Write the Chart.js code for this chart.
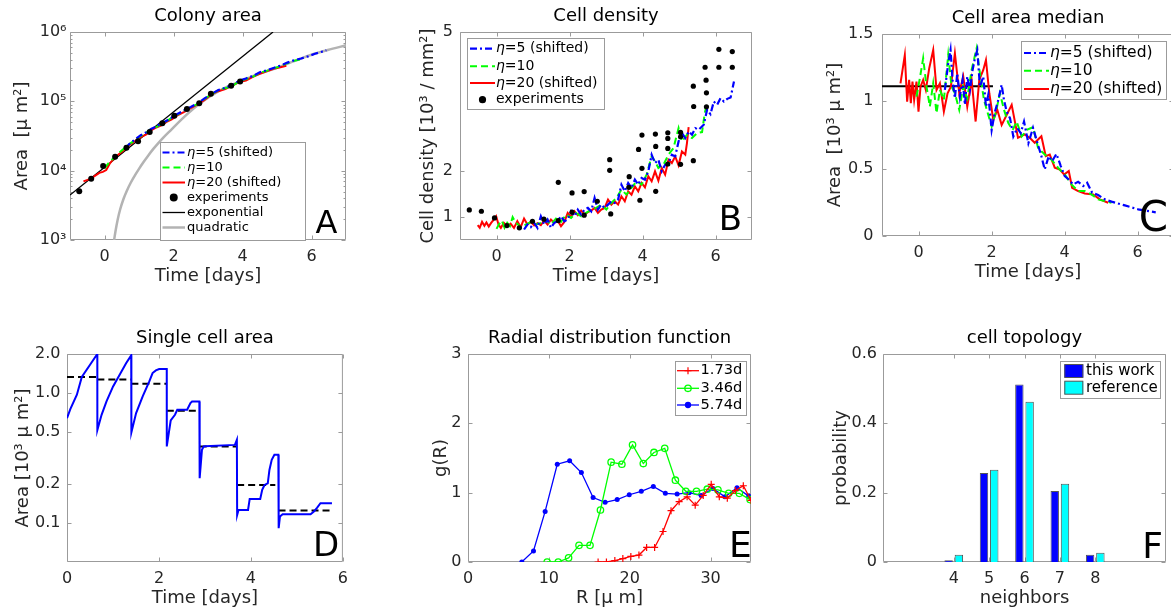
<!DOCTYPE html>
<html>
<head>
<meta charset="utf-8">
<script src="https://cdn.jsdelivr.net/npm/chart.js@4.4.1/dist/chart.umd.min.js"></script>
<style>
  html, body { margin: 0; padding: 0; background: #fff; overflow: hidden; }
  body { width: 1171px; height: 612px; position: relative; }
  canvas { position: absolute; }
</style>
</head>
<body>
<canvas id="colony"></canvas>
<canvas id="density"></canvas>
<canvas id="median"></canvas>
<canvas id="single"></canvas>
<canvas id="radial"></canvas>
<canvas id="topology"></canvas>
<script>
// ---------- data ----------
const dayTicks = [0, 2, 4, 6];

// A: colony area [µm²] vs time [days]
const colonyTicks = [1e3, 1e4, 1e5, 1e6];
const colonyEta5 = [[0.6,21000],[0.75,25000],[0.9,28500],[1.05,32500],[1.2,35500],[1.35,40000],[1.5,43500],[1.65,48000],[1.8,52500],[1.95,58500],[2.1,65000],[2.3,74000],[2.5,83000],[2.7,94000],[2.9,110000],[3.1,128000],[3.3,146000],[3.5,157000],[3.7,172000],[3.9,198000],[4.1,214000],[4.3,232000],[4.5,262000],[4.7,280000],[4.9,303000],[5.1,328000],[5.3,362000],[5.5,392000],[5.7,415000],[5.9,445000],[6.1,485000],[6.3,520000],[6.43,545000]];
const colonyEta10 = [[0.0,10800],[0.15,13500],[0.3,15800],[0.45,18600],[0.6,21500],[0.75,24800],[0.9,27800],[1.05,31800],[1.2,35000],[1.35,40000],[1.5,42500],[1.65,47000],[1.8,52000],[1.95,58000],[2.1,64000],[2.3,73000],[2.5,82000],[2.7,92000],[2.9,108000],[3.1,127000],[3.3,145000],[3.5,155000],[3.7,165000],[3.9,195000],[4.1,210000],[4.3,225000],[4.5,258000],[4.7,275000],[4.9,300000],[5.1,320000],[5.3,355000],[5.5,385000],[5.7,405000]];
const colonyEta20 = [[-0.61,7000],[-0.45,7500],[-0.3,8300],[-0.15,9300],[-0.05,9600],[0.05,10200],[0.15,12600],[0.3,15500],[0.45,17800],[0.6,20500],[0.75,24000],[0.9,27000],[1.05,30500],[1.2,33000],[1.35,38000],[1.5,42000],[1.65,45000],[1.8,50500],[1.95,55000],[2.1,62000],[2.3,70000],[2.5,80000],[2.7,90000],[2.9,105000],[3.1,126000],[3.3,140000],[3.5,150000],[3.7,168000],[3.9,190000],[4.1,200000],[4.3,226000],[4.5,250000],[4.7,270000],[4.9,295000],[5.1,310000],[5.27,325000]];
const colonyExperiments = [[-0.732,5035],[-0.385,7670],[-0.039,11670],[0.308,15920],[0.636,21480],[0.973,26500],[1.31,36140],[1.676,48200],[2.023,62130],[2.389,77470],[2.746,93500],[3.083,129000],[3.671,168400],[3.931,194000]];
const colonyExponential = [[-1,4440],[4.885,1e6]];
const colonyQuadratic = [[0.279,1000],[0.32,1350],[0.38,1950],[0.453,2750],[0.55,3900],[0.645,5100],[0.76,6700],[0.886,8600],[1.0,10600],[1.127,13200],[1.27,16600],[1.416,20600],[1.56,25000],[1.705,30000],[1.946,39500],[2.235,55000],[2.6,80000],[3.0,113000],[3.5,158000],[4.0,200000],[4.5,252000],[5.0,305000],[5.5,380000],[6.0,470000],[6.47,549500],[7.0,642600]];

// B: cell density [10³/mm²]
const densityTicks = [1, 2, 5];
const densityEta5 = [[0.755,0.727],[0.847,0.835],[0.939,0.777],[1.031,0.871],[1.123,0.763],[1.215,1.014],[1.307,0.835],[1.399,0.942],[1.491,0.763],[1.583,0.871],[1.675,0.906],[1.767,1.014],[1.859,0.906],[1.951,0.942],[2.043,1.122],[2.135,1.014],[2.227,1.158],[2.319,1.05],[2.411,1.158],[2.503,1.194],[2.595,1.122],[2.687,1.41],[2.779,1.158],[2.871,1.266],[2.963,1.194],[3.055,1.266],[3.147,1.338],[3.239,1.302],[3.331,1.374],[3.423,1.698],[3.515,1.554],[3.607,1.734],[3.699,1.626],[3.791,1.806],[3.883,1.698],[3.975,1.842],[4.067,1.806],[4.159,1.986],[4.251,2.345],[4.343,2.165],[4.435,2.237],[4.527,1.986],[4.62,2.129],[4.711,2.165],[4.804,2.345],[4.896,2.309],[4.988,2.633],[5.08,2.813],[5.172,2.705],[5.264,2.849],[5.356,2.777],[5.448,2.921],[5.54,2.885],[5.678,2.993],[5.77,3.317],[5.862,3.223],[5.954,3.496],[6.046,3.424],[6.138,3.568],[6.23,3.496],[6.322,3.554],[6.414,3.583],[6.506,3.928]];
const densityEta10 = [[0.0,0.741],[0.074,0.849],[0.147,0.921],[0.221,0.763],[0.294,0.871],[0.368,0.799],[0.442,0.993],[0.516,0.885],[0.589,0.835],[0.681,0.763],[0.801,0.835],[0.939,0.885],[1.077,0.835],[1.215,0.871],[1.353,0.942],[1.491,0.835],[1.629,0.964],[1.767,0.892],[1.905,1.05],[2.043,0.978],[2.181,1.086],[2.319,1.014],[2.457,1.086],[2.595,1.158],[2.733,1.194],[2.871,1.266],[3.009,1.158],[3.147,1.302],[3.285,1.41],[3.423,1.59],[3.561,1.482],[3.699,1.626],[3.837,1.77],[3.975,1.698],[4.113,1.914],[4.251,2.309],[4.343,2.201],[4.435,2.058],[4.573,2.129],[4.711,2.345],[4.85,2.489],[4.988,2.921],[5.08,2.633],[5.218,2.777],[5.356,2.705],[5.494,2.813],[5.632,2.835],[5.706,3.245],[5.77,3.482]];
const densityEta20 = [[-0.515,0.82],[-0.46,0.763],[-0.396,0.892],[-0.331,0.806],[-0.276,0.878],[-0.212,0.791],[-0.147,0.871],[-0.074,0.942],[-0.009,1.014],[0.055,0.835],[0.12,0.763],[0.202,0.871],[0.294,0.799],[0.386,0.856],[0.479,0.763],[0.571,0.906],[0.663,0.777],[0.755,0.964],[0.847,0.835],[0.939,0.892],[1.031,0.813],[1.123,0.863],[1.215,0.82],[1.307,0.921],[1.399,0.835],[1.491,0.942],[1.583,0.871],[1.675,0.921],[1.767,0.799],[1.859,0.892],[1.951,1.086],[2.043,1.007],[2.135,1.122],[2.227,1.036],[2.319,1.137],[2.411,1.05],[2.503,1.101],[2.595,1.137],[2.687,1.194],[2.779,1.086],[2.871,1.158],[2.963,1.194],[3.055,1.374],[3.147,1.266],[3.239,1.338],[3.331,1.266],[3.423,1.446],[3.515,1.338],[3.607,1.554],[3.699,1.482],[3.791,1.662],[3.883,1.554],[3.975,1.734],[4.067,1.64],[4.159,1.878],[4.251,1.77],[4.343,1.986],[4.435,1.784],[4.527,2.058],[4.62,1.914],[4.711,2.237],[4.804,2.165],[4.896,2.309],[4.988,2.115],[5.08,2.417],[5.172,2.345],[5.218,2.597],[5.264,2.942]];
const densityExperiments = [[-0.745,1.151],[-0.414,1.122],[-0.055,0.978],[0.285,0.813],[0.626,0.763],[0.985,0.906],[1.298,0.95],[1.693,1.748],[1.693,0.921],[2.07,1.518],[2.07,1.101],[2.402,1.547],[2.402,1.036],[2.761,1.338],[3.101,2.237],[3.101,2.007],[3.129,1.065],[3.635,1.871],[3.626,1.64],[3.892,2.46],[3.985,2.77],[3.985,2.05],[3.929,1.36],[4.353,2.791],[4.362,2.525],[4.362,1.554],[4.693,2.82],[4.693,2.698],[4.693,2.482],[4.693,2.144],[5.043,2.137],[5.043,2.827],[5.043,2.734],[5.393,3.827],[5.402,3.388],[5.393,2.216],[5.715,4.237],[5.742,3.957],[5.752,3.683],[5.752,3.381],[6.092,4.626],[6.092,4.237],[6.46,4.576],[6.46,4.237]];

// C: cell area median [10³ µm²]
const medianTicks = [0, 0.5, 1, 1.5];
const medianEta5 = [[0.723,1.085],[0.814,1.282],[0.878,1.381],[0.933,1.159],[0.997,1.023],[1.061,1.208],[1.134,1.035],[1.208,1.159],[1.272,0.974],[1.336,1.184],[1.409,1.085],[1.482,1.233],[1.546,1.32],[1.61,1.381],[1.683,1.109],[1.775,1.184],[1.848,0.961],[1.912,1.048],[2.004,0.788],[2.095,0.924],[2.187,1.011],[2.278,1.122],[2.342,1.011],[2.415,0.924],[2.507,0.875],[2.598,0.739],[2.708,0.801],[2.8,0.764],[2.891,0.85],[3.01,0.689],[3.138,0.803],[3.257,0.692],[3.367,0.593],[3.458,0.494],[3.568,0.593],[3.66,0.556],[3.779,0.61],[3.898,0.519],[4.007,0.445],[4.117,0.42],[4.236,0.383],[4.373,0.403],[4.511,0.371],[4.62,0.395],[4.758,0.321],[4.922,0.304],[5.105,0.272],[5.288,0.255],[5.654,0.227],[6.02,0.198],[6.5,0.176]];
const medianEta10 = [[-0.055,1.035],[0.037,1.171],[0.128,1.32],[0.22,1.109],[0.311,0.961],[0.403,1.134],[0.494,0.912],[0.586,1.085],[0.695,1.011],[0.814,1.344],[0.906,1.109],[0.997,1.06],[1.116,0.937],[1.226,1.109],[1.336,1.023],[1.455,1.233],[1.592,1.394],[1.683,1.208],[1.793,1.011],[1.885,0.924],[2.004,0.813],[2.123,0.924],[2.232,1.06],[2.342,0.937],[2.461,0.838],[2.58,0.788],[2.69,0.85],[2.827,0.739],[2.964,0.788],[3.138,0.808],[3.275,0.655],[3.458,0.605],[3.641,0.568],[3.824,0.507],[4.007,0.457],[4.19,0.383],[4.373,0.334],[4.556,0.334],[4.739,0.309],[4.922,0.272],[5.105,0.259],[5.288,0.247]];
const medianEta20 = [[-0.494,1.134],[-0.375,1.344],[-0.311,0.998],[-0.256,1.159],[-0.21,0.986],[-0.165,1.147],[-0.119,1.011],[-0.055,1.147],[0.0,0.924],[0.055,1.109],[0.128,1.159],[0.201,1.085],[0.293,1.245],[0.403,1.381],[0.494,1.085],[0.586,1.134],[0.695,0.924],[0.796,1.06],[0.887,1.109],[0.997,1.357],[1.116,1.06],[1.226,1.184],[1.336,0.961],[1.455,1.159],[1.565,0.85],[1.665,1.159],[1.775,1.233],[1.848,1.307],[1.94,1.06],[2.049,0.862],[2.159,0.937],[2.278,0.825],[2.415,0.899],[2.553,0.974],[2.726,0.729],[2.909,0.754],[3.047,0.729],[3.184,0.692],[3.367,0.741],[3.486,0.593],[3.596,0.605],[3.733,0.507],[3.87,0.494],[3.989,0.457],[4.117,0.482],[4.209,0.358],[4.373,0.334],[4.556,0.316],[4.785,0.309],[4.968,0.272],[5.197,0.247]];
const medianInitial = [[-1,1.112],[2.04,1.112]];

// D: single cell area [10³ µm²]
const singleTicks = [0.1, 0.2, 0.5, 1.0, 2.0];
const singleCell = [[0,0.641],[0.072,0.753],[0.215,0.971],[0.322,1.329],[0.501,1.654],[0.659,2.0],[0.66,0.518],[0.752,0.68],[0.859,0.862],[1.002,1.125],[1.145,1.385],[1.288,1.703],[1.396,1.953],[1.4,0.497],[1.503,0.701],[1.646,0.943],[1.79,1.23],[1.861,1.426],[1.933,1.495],[2.004,1.531],[2.169,1.531],[2.17,0.388],[2.255,0.615],[2.348,0.681],[2.398,0.744],[2.613,0.744],[2.684,0.837],[2.72,0.862],[2.878,0.862],[2.885,0.221],[2.935,0.366],[2.971,0.388],[3.0,0.39],[3.651,0.399],[3.694,0.437],[3.7,0.115],[3.73,0.126],[3.937,0.126],[3.973,0.153],[4.202,0.153],[4.245,0.18],[4.295,0.196],[4.366,0.202],[4.402,0.256],[4.452,0.306],[4.51,0.335],[4.596,0.335],[4.603,0.091],[4.631,0.112],[4.689,0.1166],[5.297,0.1166],[5.369,0.1223],[5.44,0.1313],[5.512,0.1418],[5.762,0.1418]];
const singleMeans = [[0,0.66,1.33],[0.66,1.4,1.275],[1.4,2.17,1.18],[2.17,2.885,0.731],[2.885,3.7,0.388],[3.7,4.53,0.196],[4.6,5.76,0.1245]];

// E: radial distribution function g(R)
const radialTicksX = [0, 10, 20, 30];
const radialTicksY = [0, 1, 2, 3];
const rdf173 = [[16.09,0],[17.12,0],[18.16,0.02],[19.15,0.05],[20.14,0.08],[21.14,0.1],[22.09,0.21],[23.08,0.21],[24.12,0.44],[25.11,0.74],[26.11,0.87],[27.1,0.94],[28.1,0.82],[29.09,0.96],[30.08,1.12],[31.08,0.94],[32.07,0.92],[33.06,1.03],[34.05,1.1],[35.0,0.89]];
const rdf346 = [[9.79,0],[11.16,0],[12.44,0.06],[13.73,0.24],[15.09,0.24],[16.38,0.75],[17.7,1.44],[19.03,1.41],[20.35,1.69],[21.68,1.42],[23.0,1.58],[24.33,1.64],[25.65,1.18],[26.94,1.02],[28.26,1.02],[29.59,1.05],[30.91,1.04],[32.24,0.99],[33.56,0.99],[34.89,0.9]];
const rdf574 = [[6.65,0],[8.1,0.16],[9.54,0.73],[11.04,1.41],[12.57,1.46],[14.02,1.29],[15.47,0.93],[16.96,0.86],[18.45,0.9],[19.94,0.97],[21.43,1.02],[22.92,1.09],[24.41,0.99],[25.86,0.98],[27.35,1.0],[28.84,0.96],[30.29,1.06],[31.78,0.94],[33.27,1.07],[34.72,0.95]];

// F: cell topology
const neighbors = [4, 5, 6, 7, 8];
const topoThisWork = [0.005, 0.257, 0.512, 0.205, 0.021];
const topoReference = [0.021, 0.266, 0.462, 0.226, 0.027];
const topoTicks = [0, 0.2, 0.4, 0.6];

// ---------- styling helpers ----------
const FONT = "'DejaVu Sans', sans-serif";
const INK = '#262626';
const EDGE = '#9b9b9b';
const DASH = [7, 4];
const DASHDOT = [7, 3, 2, 3];
const SUP = {3: '\u00b3', 4: '\u2074', 5: '\u2075', 6: '\u2076'};

Chart.defaults.font.family = FONT;

const pts = rows => rows.map(([x, y]) => ({x, y}));
const steps = segs => segs.flatMap(([a, b, v]) => [{x: a, y: v}, {x: b, y: v}, {x: b, y: null}]);

const line = (label, data, color, dash, width) => ({
  label, data, showLine: true, borderColor: color, backgroundColor: color,
  borderWidth: width || 2, borderDash: dash || [], pointRadius: 0, pointHoverRadius: 0
});
const dots = (label, data, r) => ({
  label, data, showLine: false, pointRadius: r, pointHoverRadius: r,
  pointBackgroundColor: '#000', pointBorderColor: '#000', pointBorderWidth: 0,
  backgroundColor: '#000', borderColor: '#000', order: -1
});

function axis(o) {
  return {
    type: o.type || 'linear', min: o.min, max: o.max, offset: false,
    afterBuildTicks: s => { s.ticks = o.ticks.map(v => ({value: v})); },
    afterFit: s => { if (s.isHorizontal()) s.height = 50; else s.width = 60; },
    grid: {display: false, drawTicks: false, offset: false},
    border: {display: false},
    ticks: {color: INK, font: {size: 16}, padding: o.pad, autoSkip: false, maxRotation: 0,
            callback: o.fmt || (v => v)},
    title: {display: true, text: o.title, color: INK, font: {size: 18}, padding: o.tpad}
  };
}
const xDays = () => axis({min: -1, max: 7, ticks: dayTicks, pad: 7, title: 'Time [days]', tpad: {top: 0, bottom: 2.7}});

function marker(ctx, ds, x, y) {
  const r = ds.pointRadius;
  ctx.setLineDash([]);
  ctx.lineWidth = ds.pointBorderWidth || 0;
  ctx.strokeStyle = ds.pointBorderColor || ds.borderColor;
  ctx.fillStyle = ds.pointBackgroundColor || ds.backgroundColor;
  ctx.beginPath();
  if (ds.pointStyle === 'cross') {
    ctx.moveTo(x - r, y); ctx.lineTo(x + r, y); ctx.moveTo(x, y - r); ctx.lineTo(x, y + r);
    ctx.stroke();
  } else {
    ctx.arc(x, y, r, 0, Math.PI * 2);
    ctx.fill();
    if (ctx.lineWidth > 0) ctx.stroke();
  }
}

// MATLAB-like box with inward ticks, and the big panel letter
const frame = {
  id: 'frame',
  beforeDatasetsDraw(chart, args, o) {
    const {ctx, chartArea: a} = chart;
    const {x, y} = chart.scales;
    const L = a.left + 0.5, R = a.right - 0.5, T = a.top + 0.5, B = a.bottom - 0.5;
    ctx.save();
    ctx.strokeStyle = EDGE;
    ctx.lineWidth = 1;
    ctx.beginPath();
    ctx.rect(L, T, R - L, B - T);
    x.ticks.forEach(t => {
      const p = Math.round(x.getPixelForValue(t.value)) + 0.5;
      ctx.moveTo(p, B); ctx.lineTo(p, B - 4); ctx.moveTo(p, T); ctx.lineTo(p, T + 4);
    });
    y.ticks.forEach(t => {
      const p = Math.round(y.getPixelForValue(t.value)) + 0.5;
      ctx.moveTo(L, p); ctx.lineTo(L + 4, p); ctx.moveTo(R, p); ctx.lineTo(R - 4, p);
    });
    if (o.minorY) {
      for (let e = Math.log10(y.min); e < Math.log10(y.max); e++) {
        for (let m = 2; m < 10; m++) {
          const p = Math.round(y.getPixelForValue(m * Math.pow(10, e))) + 0.5;
          ctx.moveTo(L, p); ctx.lineTo(L + 2, p); ctx.moveTo(R, p); ctx.lineTo(R - 2, p);
        }
      }
    }
    ctx.stroke();
    ctx.restore();
  },
  afterDatasetsDraw(chart, args, o) {
    if (!o.letter) return;
    const {ctx, chartArea: a} = chart;
    ctx.save();
    ctx.fillStyle = '#000';
    ctx.font = o.letter[1] + 'px ' + FONT;
    ctx.textAlign = 'right';
    ctx.textBaseline = 'alphabetic';
    ctx.fillText(o.letter[0], a.right + o.letter[2], a.bottom + o.letter[3]);
    ctx.restore();
  }
};

// boxed legend placed inside the axes, entries taken from the datasets
const boxLegend = {
  id: 'boxLegend',
  afterDraw(chart, args, o) {
    if (!o.rows) return;
    const ctx = chart.ctx;
    const [ox, oy] = o.origin;
    const [bx, by, bw, bh] = o.box;
    ctx.save();
    ctx.fillStyle = '#fff';
    ctx.fillRect(bx - ox, by - oy, bw, bh);
    ctx.strokeStyle = EDGE;
    ctx.lineWidth = 1;
    ctx.strokeRect(Math.round(bx - ox) + 0.5, Math.round(by - oy) + 0.5, bw, bh);
    ctx.textBaseline = 'middle';
    ctx.textAlign = 'left';
    o.rows.forEach((ry, i) => {
      const ds = chart.data.datasets[i];
      const cy = ry - oy;
      const s0 = o.sample[0] - ox, s1 = o.sample[1] - ox;
      if (chart.config.type === 'bar') {
        ctx.fillStyle = ds.backgroundColor;
        ctx.fillRect(s0, cy - 6.5, s1 - s0, 13);
        ctx.strokeStyle = ds.borderColor;
        ctx.lineWidth = 1;
        ctx.setLineDash([]);
        ctx.strokeRect(s0 + 0.5, cy - 6.5, s1 - s0 - 1, 13);
      } else {
        if (ds.showLine) {
          ctx.strokeStyle = ds.borderColor;
          ctx.lineWidth = ds.borderWidth;
          ctx.setLineDash(ds.borderDash || []);
          ctx.beginPath();
          ctx.moveTo(s0, cy); ctx.lineTo(s1, cy);
          ctx.stroke();
        }
        if (ds.pointRadius > 0) marker(ctx, ds, (s0 + s1) / 2, cy);
      }
      ctx.fillStyle = '#000';
      let tx = o.textX - ox;
      let text = ds.label;
      if (text.startsWith('\u03b7')) {
        // greek eta set in italic, as in the original TeX legend
        ctx.font = 'italic ' + o.size + 'px ' + FONT;
        ctx.fillText('\u03b7', tx, cy);
        tx += ctx.measureText('\u03b7').width;
        text = text.slice(1);
      }
      ctx.font = o.size + 'px ' + FONT;
      ctx.fillText(text, tx, cy);
    });
    ctx.restore();
  }
};

function panel(id, plot, spec) {
  const g = {left: 60, top: 32, right: plot.r > 1171 ? 0 : 8, bottom: 50};
  const canvas = document.getElementById(id);
  const left = plot.l - g.left, top = plot.t - g.top;
  const w = plot.r - plot.l + g.left + g.right;
  const h = plot.b - plot.t + g.top + g.bottom;
  Object.assign(canvas.style, {left: left + 'px', top: top + 'px', width: w + 'px', height: h + 'px'});
  canvas.width = w;
  canvas.height = h;
  const legend = spec.legend ? Object.assign({origin: [left, top]}, spec.legend) : false;
  return new Chart(canvas, {
    type: spec.type || 'scatter',
    data: {datasets: spec.datasets},
    options: {
      responsive: false, animation: false, devicePixelRatio: 1, events: [],
      layout: {padding: {left: 0, top: 0, right: g.right, bottom: 0}},
      scales: {x: spec.x, y: spec.y},
      plugins: {
        legend: {display: false},
        tooltip: {enabled: false},
        title: {display: true, text: spec.title, color: '#000', fullSize: false,
                font: {size: 18, weight: 'normal'}, padding: {top: 5.2, bottom: 5.2}},
        frame: {letter: spec.letter, minorY: spec.minorY},
        boxLegend: legend
      }
    },
    plugins: [frame, boxLegend]
  });
}

// ---------- A ----------
panel('colony', {l: 70, t: 32, r: 346, b: 240}, {
  title: 'Colony area',
  letter: ['A', 32, -8.5, -7],
  minorY: true,
  x: xDays(),
  y: axis({type: 'logarithmic', min: 1e3, max: 1e6, ticks: colonyTicks, pad: 3.5,
           fmt: v => '10' + SUP[Math.round(Math.log10(v))],
           title: 'Area  [\u03bc m\u00b2]', tpad: {top: 1.4, bottom: 0}}),
  datasets: [
    line('\u03b7=5 (shifted)', pts(colonyEta5), '#0000ff', DASHDOT, 2.2),
    line('\u03b7=10', pts(colonyEta10), '#00ff00', DASH),
    line('\u03b7=20 (shifted)', pts(colonyEta20), '#ff0000'),
    dots('experiments', pts(colonyExperiments), 3),
    line('exponential', pts(colonyExponential), '#000000', [], 1.3),
    Object.assign(line('quadratic', pts(colonyQuadratic), '#b3b3b3', [], 2.5), {cubicInterpolationMode: 'monotone'})
  ],
  legend: {box: [160, 142, 145, 98], rows: [152.5, 167.5, 182.5, 197.5, 212.5, 227.5],
           sample: [162.5, 185], textX: 187, size: 13}
});

// ---------- B ----------
panel('density', {l: 460, t: 32, r: 752, b: 240}, {
  title: 'Cell density',
  letter: ['B', 34, -10, -10],
  x: xDays(),
  y: axis({min: 0.5, max: 5, ticks: densityTicks, pad: 7,
           title: 'Cell density [10\u00b3 / mm\u00b2]', tpad: {top: 18, bottom: 0}}),
  datasets: [
    line('\u03b7=5 (shifted)', pts(densityEta5), '#0000ff', DASHDOT, 2.2),
    line('\u03b7=10', pts(densityEta10), '#00ff00', DASH),
    line('\u03b7=20 (shifted)', pts(densityEta20), '#ff0000'),
    dots('experiments', pts(densityExperiments), 2.6)
  ],
  legend: {box: [467, 38, 137, 71], rows: [48.7, 66.3, 83, 99.7],
           sample: [470, 495], textX: 496, size: 14}
});

// ---------- C ----------
panel('median', {l: 882, t: 34, r: 1174, b: 236}, {
  title: 'Cell area median',
  letter: ['C', 42, -6, -5.5],
  x: xDays(),
  y: axis({min: 0, max: 1.5, ticks: medianTicks, pad: 8.5,
           title: 'Area  [10\u00b3 \u03bc m\u00b2]', tpad: {top: 2.2, bottom: 0}}),
  datasets: [
    line('\u03b7=5 (shifted)', pts(medianEta5), '#0000ff', DASHDOT, 2.2),
    line('\u03b7=10', pts(medianEta10), '#00ff00', DASH),
    line('\u03b7=20 (shifted)', pts(medianEta20), '#ff0000'),
    line('initial', pts(medianInitial), '#000000', [], 2)
  ],
  legend: {box: [1021, 41, 145, 58], rows: [53, 70.7, 89],
           sample: [1024, 1049], textX: 1050, size: 15.5}
});

// ---------- D ----------
panel('single', {l: 67, t: 354, r: 347, b: 562}, {
  title: 'Single cell area',
  letter: ['D', 34, -3.7, -6.5],
  x: axis({min: 0, max: 6, ticks: dayTicks, pad: 7, title: 'Time [days]', tpad: {top: 0, bottom: 2.7}}),
  y: axis({type: 'logarithmic', min: 0.05, max: 2.0, ticks: singleTicks, pad: 6.5,
           fmt: v => v.toFixed(1),
           title: 'Area [10\u00b3 \u03bc m\u00b2]', tpad: {top: 5.9, bottom: 0}}),
  datasets: [
    line('cell', pts(singleCell), '#0000ff', [], 2),
    line('mean', steps(singleMeans), '#000000', DASH, 2)
  ]
});

// ---------- E ----------
panel('radial', {l: 468, t: 354, r: 751, b: 562}, {
  title: 'Radial distribution function',
  letter: ['E', 36, 0.7, -4.7],
  x: axis({min: 0, max: 35, ticks: radialTicksX, pad: 7, title: 'R [\u03bc m]', tpad: {top: 0, bottom: 2.7}}),
  y: axis({min: 0, max: 3, ticks: radialTicksY, pad: 6.5, title: 'g(R)', tpad: {top: 22.6, bottom: 0}}),
  datasets: [
    Object.assign(line('1.73d', pts(rdf173), '#ff0000', [], 1.3),
      {pointStyle: 'cross', pointRadius: 3.5, pointBorderColor: '#ff0000', pointBorderWidth: 1.2}),
    Object.assign(line('3.46d', pts(rdf346), '#00ff00', [], 1.3),
      {pointStyle: 'circle', pointRadius: 3.2, pointBackgroundColor: 'rgba(0,0,0,0)', pointBorderColor: '#00ff00', pointBorderWidth: 1.3}),
    Object.assign(line('5.74d', pts(rdf574), '#0000ff', [], 1.3),
      {pointStyle: 'circle', pointRadius: 2.5, pointBackgroundColor: '#0000ff', pointBorderColor: '#0000ff', pointBorderWidth: 0})
  ],
  legend: {box: [675, 361, 71, 54], rows: [370.7, 388.3, 405],
           sample: [677, 699], textX: 700.5, size: 14.6}
});

// ---------- F ----------
panel('topology', {l: 883, t: 354, r: 1166, b: 562}, {
  type: 'bar',
  title: 'cell topology',
  letter: ['F', 36, -3, -3.7],
  x: axis({min: 2, max: 10, ticks: neighbors, pad: 7, title: 'neighbors', tpad: {top: 0, bottom: 2.7}}),
  y: axis({min: 0, max: 0.6, ticks: topoTicks, pad: 6, title: 'probability', tpad: {top: 7.6, bottom: 0}}),
  datasets: [
    {label: 'this work', data: neighbors.map((n, i) => ({x: n, y: topoThisWork[i]})),
     backgroundColor: '#0000ff', borderColor: '#555555', borderWidth: 1,
     categoryPercentage: 0.58, barPercentage: 0.82},
    {label: 'reference', data: neighbors.map((n, i) => ({x: n, y: topoReference[i]})),
     backgroundColor: '#00ffff', borderColor: '#555555', borderWidth: 1,
     categoryPercentage: 0.58, barPercentage: 0.82}
  ],
  legend: {box: [1060, 361, 100, 37], rows: [371, 387.7],
           sample: [1064.3, 1083.3], textX: 1086, size: 15}
});
</script>
</body>
</html>
